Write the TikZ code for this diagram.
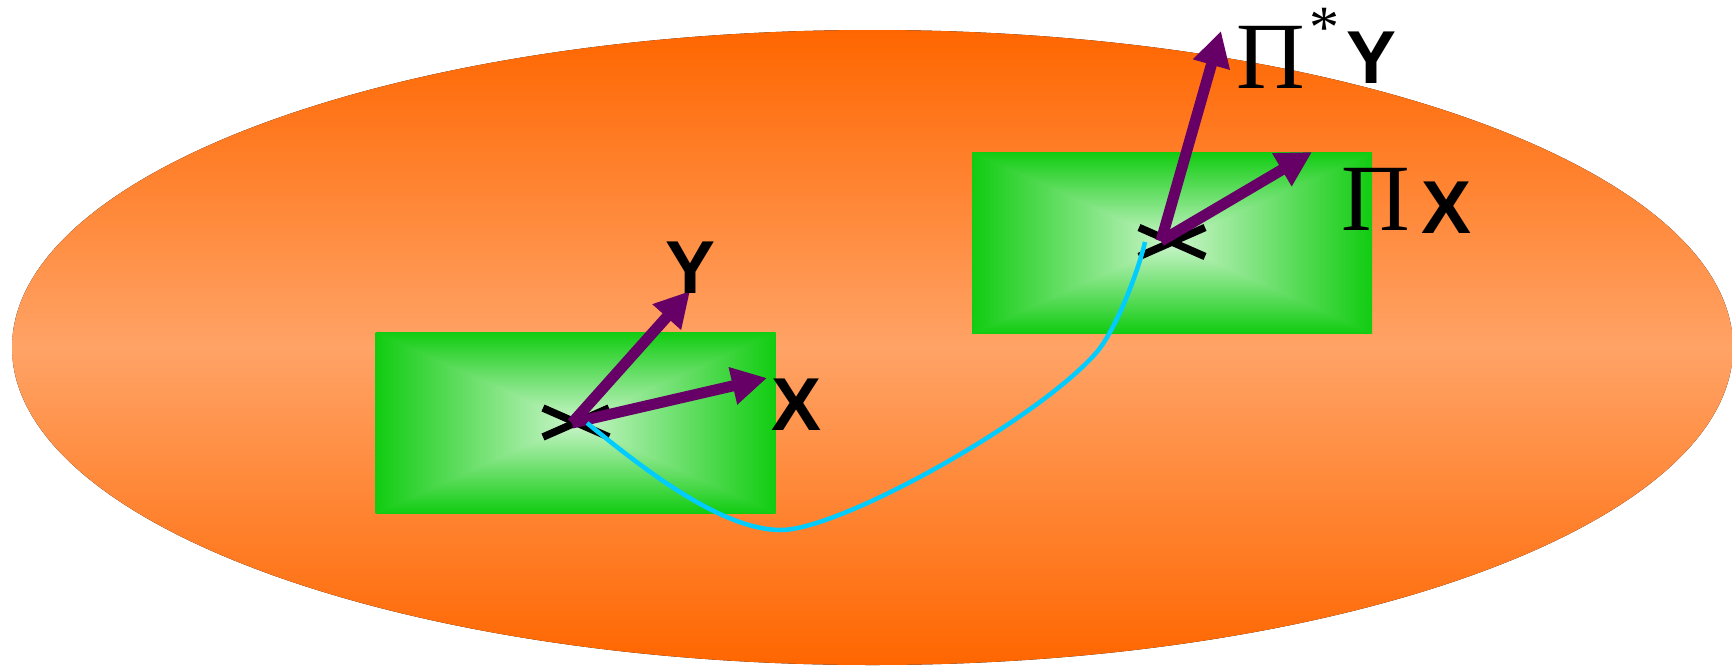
\documentclass[tikz,border=0pt]{standalone}
\usepackage{fontspec}
\newfontfamily\labsans{Liberation Sans}
\newfontfamily\labserif{Liberation Serif}
\usetikzlibrary{arrows.meta}
\definecolor{orangeEdge}{RGB}{255,102,0}
\definecolor{orangeMid}{RGB}{255,163,102}
\definecolor{vecpurple}{RGB}{102,0,102}
\definecolor{pathcyan}{RGB}{0,204,255}
\pgfdeclarefunctionalshading{pyr}{\pgfpointorigin}{\pgfpoint{100bp}{100bp}}{}{50 sub abs 25 div exch 50 sub abs 25 div 2 copy sub abs add add 2 div 1 2 copy gt {exch} if pop dup -0.733 mul 0.80 add exch dup -0.16 mul 0.96 add exch -0.733 mul 0.80 add}
\begin{document}
\begin{tikzpicture}[x=1pt,y=-1pt,
  greenbox/.style={shade, shading=pyr, minimum width=400pt, minimum height=181pt, inner sep=0pt, outer sep=0pt, draw=none},
  crossline/.style={line width=7.5pt, black},
  vec/.style={line width=11pt, vecpurple, -{Triangle[length=35pt,width=36pt]}},
  traj/.style={line width=4.5pt, pathcyan},
  lab/.style={font=\labsans\bfseries\fontsize{75}{75}\selectfont, inner sep=0pt},
  pil/.style={font=\labserif\fontsize{95}{95}\selectfont, inner sep=0pt},
  starl/.style={font=\labserif\fontsize{60}{60}\selectfont, inner sep=0pt}]
\useasboundingbox (0,0) rectangle (1732,665);
% manifold
\fill[top color=orangeEdge, bottom color=orangeEdge, middle color=orangeMid]
  (872.5,347.5) ellipse [x radius=860.5pt, y radius=317.5pt];
% charts
\node[greenbox] (box1) at (575.5,422.5) {};
\node[greenbox] (box2) at (1172,242.5) {};
% base points
\coordinate (c1) at (576,422.5);
\coordinate (c2) at (1172,242);
\draw[crossline] (c1) ++(-33,-14.5) -- ++(66,29);
\draw[crossline] (c1) ++(-33,14.5) -- ++(66,-29);
\draw[crossline] (c2) ++(-33,-14.5) -- ++(66,29);
\draw[crossline] (c2) ++(-33,14.5) -- ++(66,-29);
% vectors
\coordinate (s1) at (572,423);
\coordinate (tx1) at (767,378);
\coordinate (ty1) at (690,291);
\coordinate (s2) at (1161,241);
\coordinate (tx2) at (1312,152);
\coordinate (ty2) at (1221,31);
\draw[vec] (s1) -- (tx1);
\draw[vec] (s1) -- (ty1);
\draw[vec] (s2) -- (tx2);
\draw[vec] (s2) -- (ty2);
% labels
\node[lab, anchor=base] (Y1) at (690.5,293) {Y};
\node[lab, anchor=base] (X1) at (796.5,430) {X};
\node[pil, anchor=base] (P1) at (1271,88) {Π};
\node[starl, anchor=north] (S1) at (1324,8) {*};
\node[lab, anchor=base] (Y2) at (1371.5,83) {Y};
\node[pil, anchor=base] (P2) at (1376,230) {Π};
\node[lab, anchor=base] (X2) at (1446.5,233) {X};
% curve
\coordinate (p0) at (587,423);
\coordinate (pm) at (781,530);
\coordinate (pq) at (1096,353);
\coordinate (p1) at (1145,242);
\draw[traj] (p0) .. controls (640,466) and (720,530) .. (pm)
  .. controls (840,530) and (1036,421) .. (pq)
  .. controls (1116,330) and (1138,272) .. (p1);
\end{tikzpicture}
\end{document}
